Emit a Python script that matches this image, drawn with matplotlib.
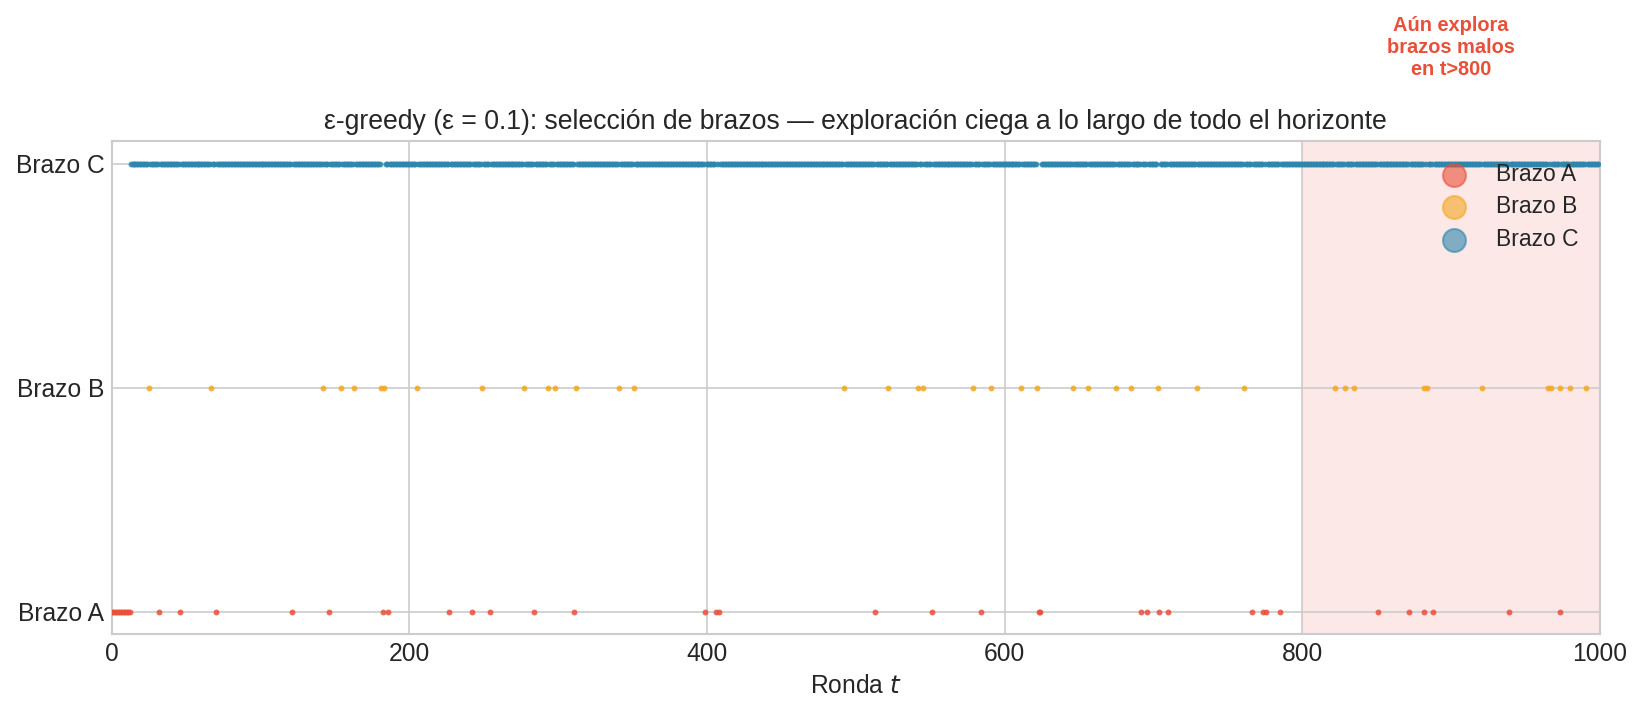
import numpy as np
import matplotlib
matplotlib.use("Agg")
import matplotlib.pyplot as plt

plt.style.use("seaborn-v0_8-whitegrid")
plt.rcParams['font.family'] = ['Liberation Sans', 'DejaVu Sans']

# rounds where each arm was pulled
n_rounds = 1000
rounds_a = [0, 1, 2, 3, 4, 5, 6, 7, 8, 9, 10, 11, 12,
            32, 46, 70, 121, 146, 182, 186, 227, 242, 254, 284, 311,
            399, 406, 408, 513, 551, 584, 623, 624, 692, 696, 704, 710,
            766, 774, 776, 785, 851, 872, 882, 888, 939, 973]
rounds_b = [25, 67, 142, 154, 163, 181, 183, 205, 249, 277, 293, 298, 312,
            341, 351, 492, 522, 542, 545, 579, 591, 611, 622, 646, 656,
            675, 685, 703, 729, 761, 822, 829, 835, 882, 884, 921,
            965, 967, 973, 980, 991]
# arm C: every other round once the initial pulls of A are done
rounds_c = [t for t in range(13, n_rounds)
            if t not in rounds_a and t not in rounds_b]

arm_labels = ["Brazo A", "Brazo B", "Brazo C"]
arm_colors = ["#E8503A", "#F5A623", "#2E86AB"]

fig = plt.figure(figsize=(10.95, 4.74), dpi=150)
ax = fig.add_axes([0.068, 0.108, 0.906, 0.693])

ax.axvspan(800, 1000, color="#E8503A", alpha=0.12, lw=0, zorder=0)

for i, (rounds, label, color) in enumerate(zip([rounds_a, rounds_b, rounds_c], arm_labels, arm_colors)):
    ax.scatter(rounds, np.full(len(rounds), i), s=8, color=color, alpha=0.85,
               lw=0, label=label, zorder=3)

ax.set_xlim(0, 1000)
ax.set_ylim(-0.1, 2.1)
ax.set_yticks([0, 1, 2])
ax.set_yticklabels(arm_labels, fontsize=11.8)
ax.set_xticks(range(0, 1001, 200))
ax.tick_params(axis="x", labelsize=11.8)
ax.set_xlabel("Ronda $t$", fontsize=11.8)
ax.set_title("ε-greedy (ε = 0.1): selección de brazos — exploración ciega a lo largo de todo el horizonte",
             fontsize=12.8)
for spine in ax.spines.values():
    spine.set_visible(True)
    spine.set_color("#cccccc")

leg = ax.legend(loc="upper right", fontsize=11, markerscale=3.9, frameon=False,
                labelspacing=0.4, borderaxespad=0.55)
for h, color in zip(leg.legend_handles, arm_colors):
    h.set_alpha(0.6)
    h.set_edgecolor(color)
    h.set_linewidth(1.0)

ax.text(900, 2.52, "Aún explora\nbrazos malos\nen t>800", ha="center", va="center",
        color="#E8503A", fontsize=9.6, fontweight="bold", clip_on=False)

fig.savefig("out.png", dpi=150)
